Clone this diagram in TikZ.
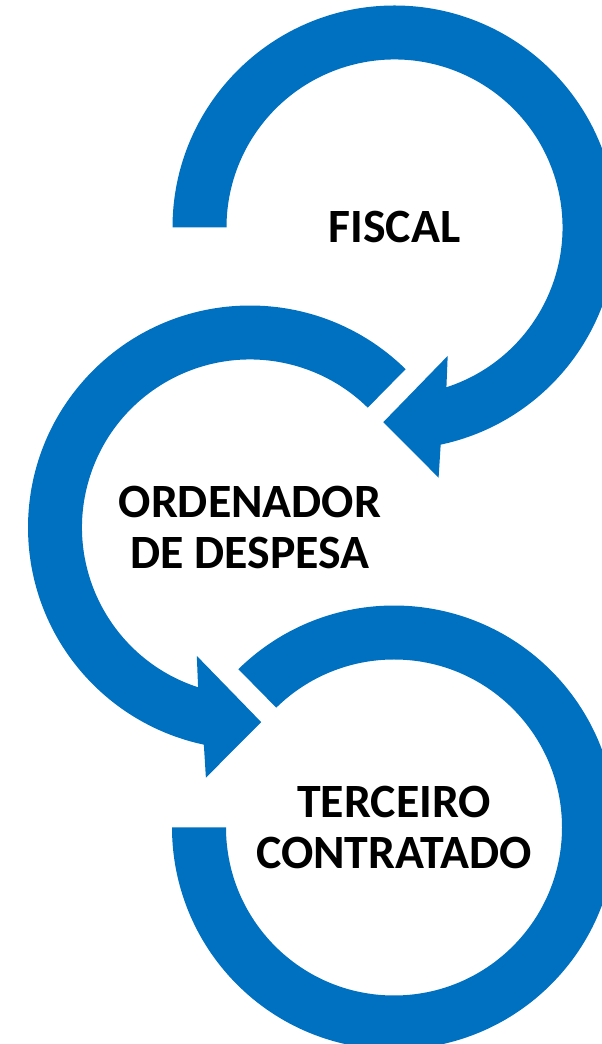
\documentclass[tikz,border=0pt]{standalone}
\usepackage{fontspec}
\setmainfont{Carlito}
\usetikzlibrary{calc}
\definecolor{ringblue}{HTML}{0070C0}

\begin{document}
\begin{tikzpicture}[x=1pt, y=1pt,
                    ring_style/.style={fill=ringblue, draw=none},
                    label_style/.style={align=center, inner sep=0pt,
                      font=\fontsize{47.8}{51.5}\selectfont\bfseries}
   ]
   \useasboundingbox (0,0) rectangle (602,1044);
   \clip (0,0) rectangle (602,1044);
   % Labels, also the centres of the rings
   \node[label_style] (fiscal) at (394.5,816.5) {FISCAL};
   \node[label_style] (ordenador) at (250,516.5) {ORDENADOR\\DE DESPESA};
   \node[label_style] (terceiro) at (394,216.5) {TERCEIRO\\CONTRATADO};

   % Rings
   \fill[ring_style] ($(fiscal)+(180:222pt)$) arc[start angle=180, end angle=-78, radius=222pt]
      -- ($(fiscal)+(-80:254pt)$) -- ($(fiscal)+(-93.3:195pt)$)
      -- ($(fiscal)+(-67.5:139pt)$) -- ($(fiscal)+(-72:168pt)$)
      arc[start angle=-72, end angle=180, radius=168pt] -- cycle;
   \fill[ring_style] ($(ordenador)+(45.5:222pt)$) arc[start angle=45.5, end angle=258, radius=222pt]
      -- ($(ordenador)+(260:254pt)$) -- ($(ordenador)+(273.3:195pt)$)
      -- ($(ordenador)+(247.5:139pt)$) -- ($(ordenador)+(252:168pt)$)
      arc[start angle=252, end angle=45.5, radius=168pt] -- cycle;
   \fill[ring_style] ($(terceiro)+(134.5:222pt)$) arc[start angle=134.5, end angle=-180, radius=222pt]
      -- ($(terceiro)+(180:168pt)$)
      arc[start angle=-180, end angle=134.5, radius=168pt] -- cycle;
\end{tikzpicture}
\end{document}
